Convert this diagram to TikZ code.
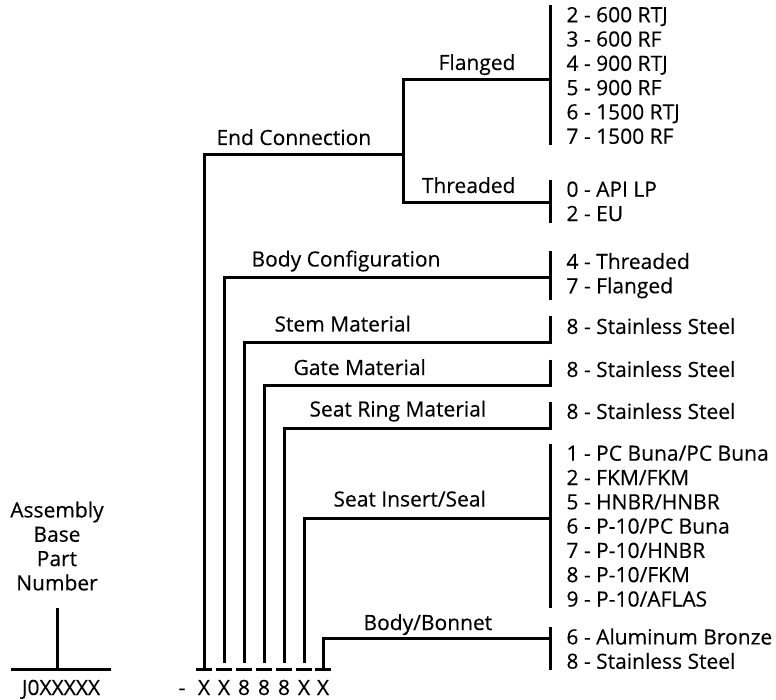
\documentclass[tikz,border=0pt]{standalone}
\usepackage{fontspec}
\setmainfont{Open Sans}[FakeBold=0.3]

\begin{document}
\begin{tikzpicture}[x=1pt, y=-1pt, line width=3pt, font=\fontsize{21}{24.3}\selectfont,
field/.style={anchor=base west, inner sep=0pt},
choice/.style={anchor=north west, align=left, inner xsep=15pt, inner ysep=0pt},
digit/.style={anchor=base, minimum width=13pt, inner xsep=0pt, inner ysep=12pt, text height=12pt, text depth=0pt}]
\useasboundingbox (0,0) rectangle (776,700);
\node[align=center, inner sep=0pt, anchor=north] (asm) at (57,500) {Assembly\\Base\\Part\\Number};
\node[digit, minimum width=97pt] (bpn) at (61,695) {J0XXXXX};
\node[anchor=base] (hyp) at (182,695) {-};
\node[digit] (c1) at (204,695) {X}; \node[digit] (c2) at (224,695) {X}; \node[digit] (c3) at (244,695) {8}; \node[digit] (c4) at (264,695) {8};
\node[digit] (c5) at (284,695) {8}; \node[digit] (c6) at (304,695) {X}; \node[digit] (c7) at (323,695) {X};
\node[field] (ec) at (215,145) {End Connection};
\node[field, anchor=base east] (fl) at (517,70) {Flanged};
\node[field, anchor=base east] (th) at (517,193) {Threaded};
\node[field] (bc) at (250,266.5) {Body Configuration};
\node[field] (sm) at (273,331.5) {Stem Material};
\node[field] (gm) at (292,375) {Gate Material};
\node[field] (sr) at (308,416.5) {Seat Ring Material};
\node[field] (si) at (332,506.5) {Seat Insert/Seal};
\node[field] (bb) at (362,630) {Body/Bonnet};
\node[choice] (oFl) at (550,5.5) {2 - 600 RTJ\\3 - 600 RF\\4 - 900 RTJ\\5 - 900 RF\\6 - 1500 RTJ\\7 - 1500 RF};
\node[choice] (oTh) at (550,180) {0 - API LP\\2 - EU};
\node[choice] (oBC) at (550,251.5) {4 - Threaded\\7 - Flanged};
\node[choice] (oSM) at (550,316.5) {8 - Stainless Steel};
\node[choice] (oGM) at (550,359.5) {8 - Stainless Steel};
\node[choice] (oSR) at (550,401.5) {8 - Stainless Steel};
\node[choice] (oSI) at (550,444) {1 - PC Buna/PC Buna\\2 - FKM/FKM\\5 - HNBR/HNBR\\6 - P-10/PC Buna\\7 - P-10/HNBR\\8 - P-10/FKM\\9 - P-10/AFLAS};
\node[choice] (oBB) at (550,627) {6 - Aluminum Bronze\\8 - Stainless Steel};
\coordinate (kEC) at (403,155); \coordinate (jFl) at (550,80); \coordinate (jTh) at (550,203); \coordinate (jBC) at (550,278); \coordinate (jSM) at (550,343);
\coordinate (jGM) at (550,385); \coordinate (jSR) at (550,428); \coordinate (jSI) at (550,518); \coordinate (jBB) at (550,638);
\draw (oFl.north west) -- (oFl.south west); \draw (oTh.north west) -- (oTh.south west); \draw (oBC.north west) -- (oBC.south west); \draw (oSI.north west) -- (oSI.south west); \draw (oBB.north west) -- (oBB.south west);
\draw (jFl) -| (kEC) |- (jTh); \draw (kEC) -| (c1.north);
\draw[shorten >=7pt] (jBC) -| (c2.north);
\draw[shorten >=7pt] (oSM.north west) -- (jSM) -| (c3.north);
\draw[shorten >=7pt] (oGM.north west) -- (jGM) -| (c4.north);
\draw[shorten >=7pt] (oSR.north west) -- (jSR) -| (c5.north);
\draw[shorten >=7pt] (jSI) -| (c6.north);
\draw (jBB) -| (c7.north);
\draw (bpn.north west) -- (bpn.north east) (c1.north west) -- (c1.north east) (c2.north west) -- (c2.north east) (c3.north west) -- (c3.north east) (c4.north west) -- (c4.north east) (c5.north west) -- (c5.north east) (c6.north west) -- (c6.north east) (c7.north west) -- (c7.north east);
\draw[shorten >=16pt] (asm.south |- bpn.north) -- (asm.south);
\end{tikzpicture}
\end{document}
